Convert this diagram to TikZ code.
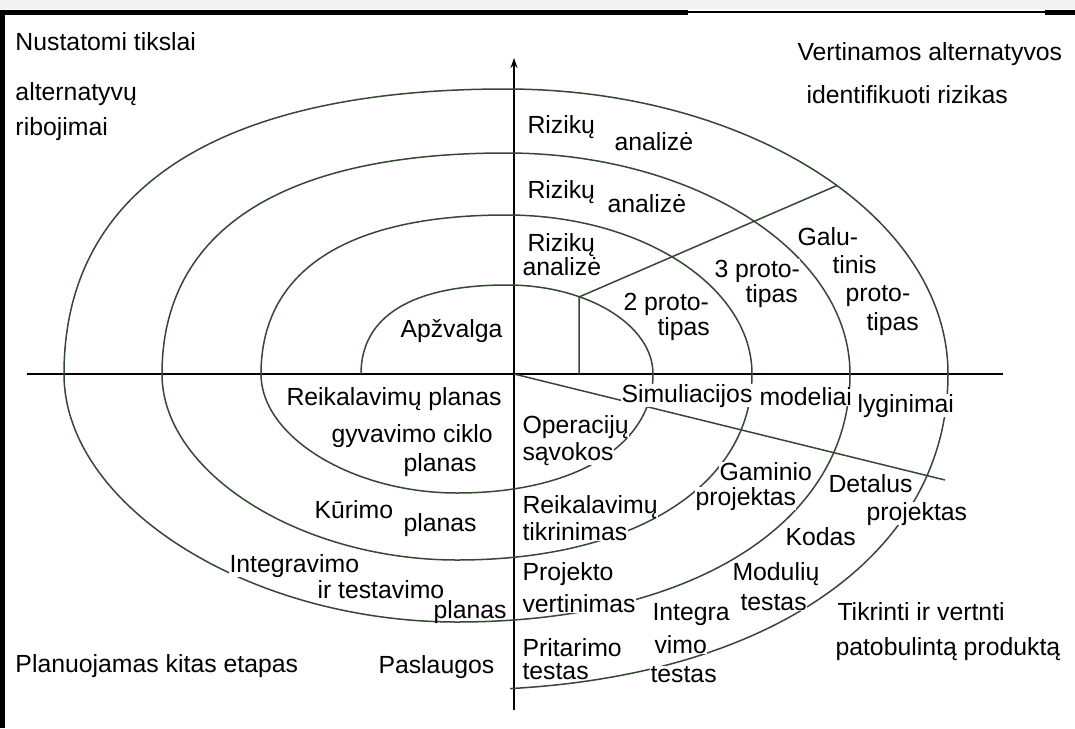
\documentclass[tikz,border=0pt]{standalone}
\usepackage{fontspec}
\setmainfont{Liberation Sans}
\usetikzlibrary{arrows.meta}
\definecolor{spiralgreen}{RGB}{52,72,52}
\begin{document}
\begin{tikzpicture}[x=1pt,y=-1pt,
  axis/.style={line width=1.8pt,black},
  sp/.style={line width=1.5pt,spiralgreen},
  lbl/.style={anchor=base west,inner sep=0.3pt,fill=white,
              font=\fontsize{24.8}{28}\selectfont},
  bare/.style={lbl,fill=none}]
\useasboundingbox (0,0) rectangle (1075,728);
\fill[white] (0,0) rectangle (1075,728);
\fill[gray!10] (0,0) rectangle (1075,9);

% frame
\draw[line width=5pt] (0,12) -- (688,12);
\draw[line width=2pt] (688,12) -- (1045,12);
\draw[line width=5pt] (1045,12) -- (1075,12);
\draw[line width=5pt] (2.5,9.5) -- (2.5,728);

% axes
\coordinate (O) at (514,374);
\coordinate (xl) at (27,374);
\coordinate (xr) at (1003,374);
\coordinate (yb) at (514,710);
\coordinate (yt) at (514,58);
\draw[axis] (xl) -- (xr);
\draw[axis,-{Stealth[length=10pt,width=7pt]}] (yb) -- (yt);

% spiral: upper half-turns around x=507, lower half-turns around x=457
\draw[sp] (361,374) .. controls (361,316.2) and (412.1,285) .. (507,285)
  .. controls (587.3,285) and (653,325) .. (653,374)
  .. controls (653,445.4) and (574.6,493) .. (457,493)
  .. controls (353.1,493) and (261,437.1) .. (261,374)
  .. controls (261,270.6) and (346.9,215) .. (506.5,215)
  .. controls (641.5,215) and (752,286.5) .. (752,374)
  .. controls (752,485.6) and (634,560) .. (457,560)
  .. controls (300.6,560) and (162,472.6) .. (162,374)
  .. controls (162,230.3) and (282.4,153) .. (506,153)
  .. controls (695.2,153) and (850,252.4) .. (850,374)
  .. controls (850,522.8) and (692.8,622) .. (457,622)
  .. controls (248.7,622) and (64,505.4) .. (64,374)
  .. controls (64,188.7) and (218.7,89) .. (506,89)
  .. controls (749.1,89) and (948,217.2) .. (948,374);
\begin{scope}
  \clip (510,0) rectangle (1075,728);
  \draw[sp] (948,374) .. controls (948,563.6) and (751.6,690) .. (457,690);
\end{scope}

% prototype divider and radial lines
\coordinate (pa) at (579,297);
\coordinate (pb) at (579,374);
\coordinate (pc) at (837,185.5);
\coordinate (re) at (945,480);
\draw[sp] (pb) -- (pa) -- (pc);
\draw[sp] (O) -- (re);

% quadrant captions
\node[lbl] (q1a) at (15,50) {Nustatomi tikslai};
\node[lbl] (q1b) at (15,100) {alternatyvų};
\node[lbl] (q1c) at (15,135) {ribojimai};
\node[lbl] (q2a) at (797,60) {Vertinamos alternatyvos};
\node[lbl] (q2b) at (806,103) {identifikuoti rizikas};
\node[lbl] (q3a) at (15,672) {Planuojamas kitas etapas};
\node[lbl] (q4a) at (837,620) {Tikrinti ir vertnti};
\node[lbl] (q4b) at (835,655) {patobulintą produktą};

% risk analysis
\node[lbl] (r1a) at (527,133) {Rizikų};
\node[lbl] (r1b) at (614,150) {analizė};
\node[lbl] (r2a) at (527,198) {Rizikų};
\node[lbl] (r2b) at (607,212) {analizė};
\node[lbl] (r3a) at (527,251) {Rizikų};
\node[lbl] (r3b) at (522,275) {analizė};

% prototypes
\node[lbl] (apz) at (400,337) {Apžvalga};
\node[lbl] (p2a) at (623,310) {2 proto-};
\node[lbl] (p2b) at (657,335) {tipas};
\node[lbl] (p3a) at (714,277) {3 proto-};
\node[lbl] (p3b) at (745,302) {tipas};
\node[lbl] (pga) at (797,245) {Galu-};
\node[lbl] (pgb) at (832,273) {tinis};
\node[lbl] (pgc) at (845,301) {proto-};
\node[lbl] (pgd) at (866,330) {tipas};

% planning
\node[lbl] (pl1) at (286,405) {Reikalavimų planas};
\node[lbl] (pl2) at (331,442) {gyvavimo ciklo};
\node[lbl] (pl3) at (403,471) {planas};
\node[lbl] (pl4) at (314,518) {Kūrimo};
\node[lbl] (pl5) at (403,531) {planas};
\node[lbl] (pl6) at (229,572) {Integravimo};
\node[lbl] (pl7) at (317,598) {ir testavimo};
\node[bare] (pl8) at (433,618) {planas};
\node[lbl] (pls) at (378,673) {Paslaugos};

% engineering
\node[lbl] (e1) at (621,402) {Simuliacijos};
\node[lbl] (e2) at (759,405) {modeliai};
\node[lbl] (e3) at (857,412) {lyginimai};
\node[lbl] (e4) at (522,433) {Operacijų};
\node[lbl] (e5) at (522,460) {sąvokos};
\node[lbl] (e6) at (522,513) {Reikalavimų};
\node[lbl] (e7) at (522,540) {tikrinimas};
\node[lbl] (e8) at (719,480) {Gaminio};
\node[lbl] (e9) at (695,505) {projektas};
\node[lbl] (e10) at (828,492) {Detalus};
\node[lbl] (e11) at (866,520) {projektas};
\node[lbl] (e12) at (785,545) {Kodas};
\node[lbl] (e13) at (522,580) {Projekto};
\node[lbl] (e14) at (522,612) {vertinimas};
\node[lbl] (e15) at (732,580) {Modulių};
\node[lbl] (e16) at (740,610) {testas};
\node[lbl] (e17) at (652,620) {Integra};
\node[lbl] (e18) at (654,653) {vimo};
\node[lbl] (e19) at (650,682) {testas};
\node[lbl] (e20) at (522,656) {Pritarimo};
\node[lbl] (e21) at (522,679) {testas};
\end{tikzpicture}
\end{document}
